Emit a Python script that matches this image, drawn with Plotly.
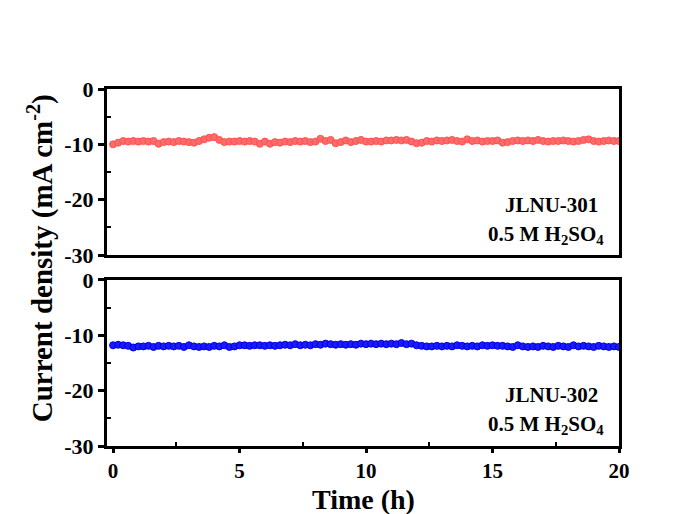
import plotly.graph_objects as go

time_h = [0.0, 0.2, 0.4, 0.6, 0.8, 1.0, 1.2, 1.4, 1.6, 1.8, 2.0, 2.2, 2.4, 2.6, 2.8, 3.0, 3.2, 3.4, 3.6, 3.8,
          4.0, 4.2, 4.4, 4.6, 4.8, 5.0, 5.2, 5.4, 5.6, 5.8, 6.0, 6.2, 6.4, 6.6, 6.8, 7.0, 7.2, 7.4, 7.6, 7.8,
          8.0, 8.2, 8.4, 8.6, 8.8, 9.0, 9.2, 9.4, 9.6, 9.8, 10.0, 10.2, 10.4, 10.6, 10.8, 11.0, 11.2, 11.4, 11.6, 11.8,
          12.0, 12.2, 12.4, 12.6, 12.8, 13.0, 13.2, 13.4, 13.6, 13.8, 14.0, 14.2, 14.4, 14.6, 14.8, 15.0, 15.2, 15.4, 15.6, 15.8,
          16.0, 16.2, 16.4, 16.6, 16.8, 17.0, 17.2, 17.4, 17.6, 17.8, 18.0, 18.2, 18.4, 18.6, 18.8, 19.0, 19.2, 19.4, 19.6, 19.8,
          20.0]

jlnu301 = [-10.0, -9.7, -9.4, -9.5, -9.4, -9.5, -9.4, -9.5, -9.4, -9.9, -9.6, -9.5, -9.6, -9.4, -9.5, -9.6, -9.7, -9.4, -9.1, -8.8,
           -8.7, -9.2, -9.6, -9.5, -9.5, -9.4, -9.5, -9.4, -9.5, -9.9, -9.5, -9.9, -9.6, -9.7, -9.5, -9.6, -9.4, -9.5, -9.4, -9.6,
           -9.5, -9.0, -9.4, -9.2, -9.8, -9.6, -9.3, -9.6, -9.4, -9.2, -9.5, -9.5, -9.4, -9.5, -9.3, -9.3, -9.2, -9.3, -9.2, -9.5,
           -9.8, -9.7, -9.4, -9.5, -9.3, -9.4, -9.3, -9.2, -9.4, -9.5, -9.1, -9.4, -9.3, -9.5, -9.4, -9.4, -9.3, -9.7, -9.6, -9.4,
           -9.3, -9.4, -9.3, -9.4, -9.2, -9.4, -9.5, -9.4, -9.4, -9.3, -9.4, -9.5, -9.4, -9.2, -9.1, -9.4, -9.5, -9.4, -9.3, -9.4,
           -9.4]

jlnu302 = [-11.8, -11.7, -11.8, -11.9, -12.2, -12.0, -12.0, -11.9, -12.1, -11.9, -12.0, -11.9, -12.0, -11.9, -12.1, -11.8, -12.0, -12.1, -12.0, -12.1,
           -11.9, -12.0, -11.8, -12.1, -12.0, -11.8, -11.8, -11.9, -11.8, -11.8, -11.9, -11.8, -11.9, -11.8, -11.7, -11.8, -11.6, -11.8, -11.7, -11.8,
           -11.6, -11.7, -11.5, -11.6, -11.7, -11.6, -11.7, -11.6, -11.7, -11.5, -11.6, -11.5, -11.6, -11.5, -11.6, -11.5, -11.6, -11.4, -11.6, -11.5,
           -11.8, -11.9, -12.0, -12.0, -11.9, -12.0, -11.9, -12.0, -11.8, -11.9, -12.0, -11.9, -12.0, -11.8, -11.9, -11.8, -11.9, -11.9, -12.0, -12.1,
           -11.8, -12.0, -12.1, -12.0, -12.1, -11.9, -12.0, -12.1, -11.9, -12.0, -12.1, -11.8, -12.0, -11.9, -12.0, -12.1, -11.9, -12.0, -12.1, -12.0,
           -12.1]

y_tickvals = [0, -10, -20, -30]
y_ticktext = ["0", "-10", "-20", "-30"]
x_tickvals = [0, 5, 10, 15, 20]
x_ticktext = ["0", "5", "10", "15", "20"]

FONT = "Liberation Serif"

fig = go.Figure()
fig.add_trace(go.Scatter(
    x=time_h, y=jlnu301, mode="lines+markers", xaxis="x", yaxis="y",
    line=dict(color="#ff6060", width=1.5),
    marker=dict(color="#ff6b6b", size=7, line=dict(color="#ff5050", width=1)),
    showlegend=False))
fig.add_trace(go.Scatter(
    x=time_h, y=jlnu302, mode="lines+markers", xaxis="x2", yaxis="y2",
    line=dict(color="#0000ff", width=1.5),
    marker=dict(color="#1a1aff", size=7, line=dict(color="#0000e0", width=1)),
    showlegend=False))

ytickfont = dict(family=FONT, size=22, color="black", weight="bold")
xtickfont = dict(family=FONT, size=21, color="black", weight="bold")

yax_common = dict(
    range=[-30, 0], tickvals=y_tickvals, ticktext=y_ticktext,
    showline=True, linecolor="black", linewidth=3, mirror=True,
    ticks="outside", ticklen=6, tickwidth=2.5, tickcolor="black",
    minor=dict(tickvals=[-5, -15, -25], ticks="inside", ticklen=4, tickwidth=2, tickcolor="black"),
    showgrid=False, zeroline=False, tickfont=ytickfont,
)

fig.update_layout(
    width=673, height=514,
    margin=dict(l=107, r=54, t=89, b=68),
    paper_bgcolor="white", plot_bgcolor="white",
    xaxis=dict(domain=[0, 1], anchor="y", range=[-0.24, 20],
               showline=True, linecolor="black", linewidth=3, mirror=True,
               ticks="", showticklabels=False, showgrid=False, zeroline=False),
    yaxis=dict(domain=[0.535, 1], anchor="x", **yax_common),
    xaxis2=dict(domain=[0, 1], anchor="y2", range=[-0.24, 20],
                tickvals=x_tickvals, ticktext=x_ticktext,
                showline=True, linecolor="black", linewidth=3, mirror=True,
                ticks="outside", ticklen=4, tickwidth=2.5, tickcolor="black",
                minor=dict(tickvals=[2.5, 7.5, 12.5, 17.5], ticks="inside", ticklen=4, tickwidth=2, tickcolor="black"),
                showgrid=False, zeroline=False, tickfont=xtickfont),
    yaxis2=dict(domain=[0, 0.465], anchor="x2", **yax_common),
)

title_font = dict(family=FONT, size=28, color="black", weight="bold")
label_font = dict(family=FONT, size=21, color="black", weight="bold")

annotations = [
    dict(text="Current density (mA cm<sup>-2</sup>)", x=-0.13, y=0.527, xref="paper", yref="paper",
         textangle=-90, showarrow=False, xanchor="center", yanchor="middle",
         font=dict(family=FONT, size=29, color="black", weight="bold")),
    dict(text="Time (h)", x=0.5, y=-0.151, xref="paper", yref="paper",
         showarrow=False, xanchor="center", yanchor="middle", font=title_font),
    dict(text="JLNU-301", x=0.869, y=0.675, xref="paper", yref="paper",
         showarrow=False, xanchor="center", yanchor="middle", font=label_font),
    dict(text="0.5 M H<sub>2</sub>SO<sub>4</sub>", x=0.857, y=0.591, xref="paper", yref="paper",
         showarrow=False, xanchor="center", yanchor="middle", font=label_font),
    dict(text="JLNU-302", x=0.869, y=0.143, xref="paper", yref="paper",
         showarrow=False, xanchor="center", yanchor="middle", font=label_font),
    dict(text="0.5 M H<sub>2</sub>SO<sub>4</sub>", x=0.857, y=0.059, xref="paper", yref="paper",
         showarrow=False, xanchor="center", yanchor="middle", font=label_font),
]
fig.update_layout(annotations=annotations)

fig.write_html("out.html")
